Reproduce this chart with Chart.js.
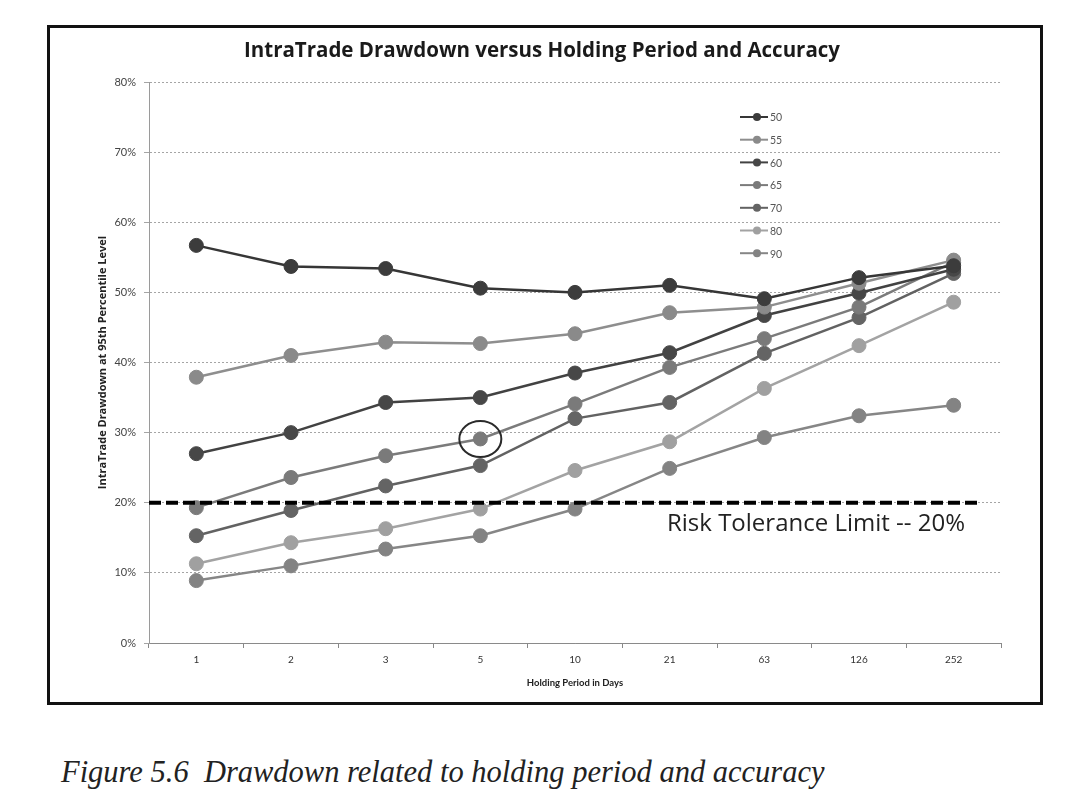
<!DOCTYPE html>
<html>
<head>
<meta charset="utf-8">
<script src="https://cdn.jsdelivr.net/npm/chart.js@4.4.1/dist/chart.umd.min.js"></script>
<style>
  html, body { margin: 0; padding: 0; background: #ffffff; }
  body { width: 1068px; height: 808px; position: relative; overflow: hidden; }
  #frame { position: absolute; left: 47px; top: 25px; width: 990px; height: 674px; border: 3px solid #111; background: #fff; }
  #chart { display: block; }
  #caption { position: absolute; left: 61px; top: 755px; font-family: "Liberation Serif", "DejaVu Serif", serif; font-style: italic; font-size: 30.5px; color: #222; white-space: pre; }
</style>
</head>
<body>
<div id="frame"><canvas id="chart" width="990" height="674"></canvas></div>
<div id="caption">Figure 5.6  Drawdown related to holding period and accuracy</div>
<script>
// ---- data (values in percent) ----
const categories = ['1', '2', '3', '5', '10', '21', '63', '126', '252'];
const seriesNames = ['50', '55', '60', '65', '70', '80', '90'];
const acc50 = [56.7, 53.7, 53.4, 50.6, 50.0, 51.0, 49.1, 52.1, 53.8];
const acc55 = [37.9, 41.0, 42.9, 42.7, 44.1, 47.1, 47.9, 51.3, 54.6];
const acc60 = [27.0, 30.0, 34.3, 35.0, 38.5, 41.4, 46.7, 49.9, 53.3];
const acc65 = [19.3, 23.6, 26.7, 29.1, 34.1, 39.3, 43.4, 47.9, 54.3];
const acc70 = [15.3, 18.9, 22.4, 25.3, 32.0, 34.3, 41.3, 46.4, 52.7];
const acc80 = [11.3, 14.3, 16.3, 19.1, 24.6, 28.7, 36.3, 42.4, 48.6];
const acc90 = [8.9, 11.0, 13.4, 15.3, 19.1, 24.9, 29.3, 32.4, 33.9];
const yMin = 0, yMax = 80, yStep = 10;
const riskLimit = 20;
const chartTitle = 'IntraTrade Drawdown versus Holding Period and Accuracy';
const riskLabel = 'Risk Tolerance Limit -- 20%';
const circledSeries = 3;   // index of the "65" series
const circledPoint = 3;    // category "5"

const seriesValues = [acc50, acc55, acc60, acc65, acc70, acc80, acc90];
const lineColors = ['#363636', '#8e8e8e', '#424242', '#7b7b7b', '#626262', '#a3a3a3', '#868686'];
const pointColors = ['#3c3c3c', '#8a8a8a', '#474747', '#7a7a7a', '#646464', '#a0a0a0', '#838383'];

const datasets = seriesNames.map((n, i) => ({
  label: n,
  data: seriesValues[i],
  borderColor: lineColors[i],
  backgroundColor: pointColors[i],
  pointBackgroundColor: pointColors[i],
  pointBorderColor: pointColors[i],
  borderWidth: 2.5,
  pointRadius: 7,
  pointBorderWidth: 1,
  tension: 0,
  fill: false
}));

const overlayPlugin = {
  id: 'overlay',
  beforeDraw(chart) {
    const {ctx, width} = chart;
    ctx.save();
    ctx.fillStyle = '#1a1a1a';
    ctx.font = 'bold 20.5px "Open Sans", Lato, sans-serif';
    ctx.textAlign = 'center';
    ctx.textBaseline = 'middle';
    ctx.fillText(chartTitle, width / 2 - 3, 23);
    ctx.restore();
  },
  afterDatasetsDraw(chart) {
    const {ctx, chartArea, scales} = chart;
    const y = scales.y;
    const x = scales.x;
    ctx.save();
    // risk tolerance dashed line
    const ry = y.getPixelForValue(riskLimit);
    ctx.strokeStyle = '#000';
    ctx.lineWidth = 4;
    ctx.setLineDash([12, 5]);
    ctx.beginPath();
    ctx.moveTo(chartArea.left, ry);
    ctx.lineTo(chartArea.right - 21, ry);
    ctx.stroke();
    ctx.setLineDash([]);
    // label
    ctx.fillStyle = '#222';
    ctx.font = '24px "Open Sans", Lato, sans-serif';
    ctx.textAlign = 'center';
    ctx.textBaseline = 'middle';
    ctx.fillText(riskLabel, chartArea.right - 185, ry + 21);
    // circled point
    const cx = x.getPixelForValue(circledPoint);
    const cy = y.getPixelForValue(seriesValues[circledSeries][circledPoint]);
    ctx.strokeStyle = '#2a2a2a';
    ctx.lineWidth = 2;
    ctx.beginPath();
    ctx.ellipse(cx, cy, 21, 18, 0, 0, Math.PI * 2);
    ctx.stroke();
    // legend inside plot
    const lx = chartArea.left + 591;
    const ly0 = chartArea.top + 35;
    const dy = 22.7;
    ctx.font = '10.5px Lato, "Open Sans", sans-serif';
    ctx.textAlign = 'left';
    ctx.textBaseline = 'middle';
    chart.data.datasets.forEach((ds, i) => {
      const yy = ly0 + i * dy;
      ctx.strokeStyle = ds.borderColor;
      ctx.lineWidth = 2;
      ctx.beginPath();
      ctx.moveTo(lx, yy);
      ctx.lineTo(lx + 28, yy);
      ctx.stroke();
      ctx.fillStyle = ds.pointBackgroundColor;
      ctx.beginPath();
      ctx.arc(lx + 17, yy, 4, 0, Math.PI * 2);
      ctx.fill();
      ctx.fillStyle = '#555';
      ctx.fillText(ds.label, lx + 30, yy + 1);
    });
    ctx.restore();
  }
};

new Chart(document.getElementById('chart'), {
  type: 'line',
  data: { labels: categories, datasets },
  plugins: [overlayPlugin],
  options: {
    responsive: false,
    animation: false,
    layout: { padding: { left: 0, right: 39, top: 54, bottom: 0 } },
    plugins: {
      legend: { display: false },
      tooltip: { enabled: false },
      title: { display: false }
    },
    scales: {
      x: {
        type: 'category',
        offset: true,
        afterFit(s) { s.height = 59; },
        grid: { display: true, drawOnChartArea: false, offset: true, color: '#888', tickLength: 5 },
        border: { display: true, color: '#8a8a8a', width: 1 },
        ticks: { color: '#333', padding: 6, font: { family: 'Lato, "Open Sans", sans-serif', size: 10 } },
        title: {
          display: true,
          text: 'Holding Period in Days',
          color: '#222',
          font: { family: 'Lato, "Open Sans", sans-serif', size: 9.5, weight: 'bold', lineHeight: 1.2 },
          padding: { top: 0, bottom: 13 }
        }
      },
      y: {
        min: yMin,
        max: yMax,
        afterFit(s) { s.width = 99; },
        grid: { color: '#a5a5a5', lineWidth: 1, tickLength: 5, drawTicks: true },
        border: { display: true, color: '#9a9a9a', dash: [2, 2], width: 1 },
        ticks: {
          stepSize: yStep,
          color: '#444',
          padding: 8,
          font: { family: 'Lato, "Open Sans", sans-serif', size: 11 },
          callback: v => v + '%'
        },
        title: {
          display: true,
          text: 'IntraTrade Drawdown at 95th Percentile Level',
          color: '#222',
          font: { family: '"Open Sans", Lato, sans-serif', size: 11, weight: 'bold', lineHeight: 1.2 },
          padding: { top: 46, bottom: 0 }
        }
      }
    }
  }
});
</script>
</body>
</html>
